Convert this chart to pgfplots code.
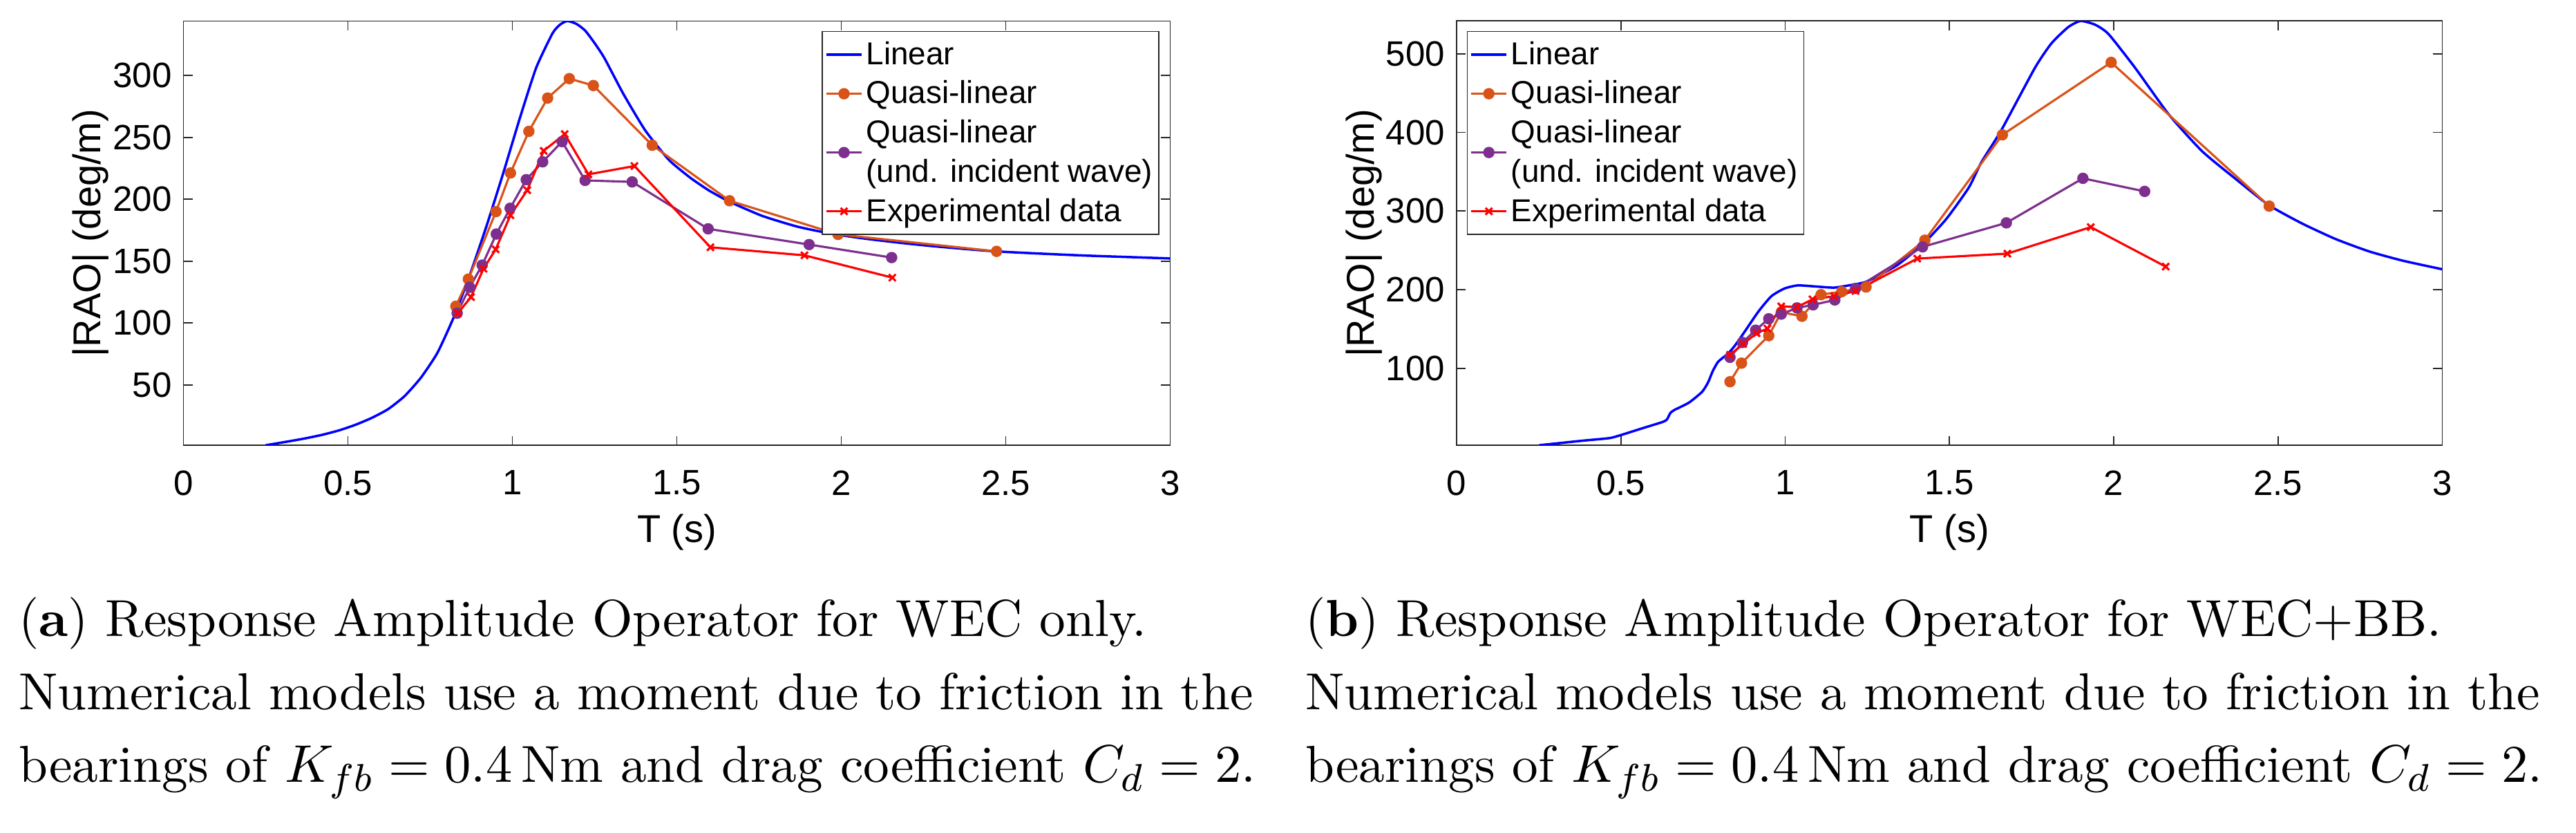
\documentclass[border=0pt]{standalone}
\usepackage{fontspec}
\usepackage{pgfplots}
\pgfplotsset{compat=1.18}
\newfontfamily\arial{Liberation Sans}
\definecolor{mlblue}{rgb}{0,0,1}
\definecolor{mlorange}{rgb}{0.85,0.325,0.098}
\definecolor{mlpurple}{rgb}{0.494,0.184,0.556}
\definecolor{mlred}{rgb}{1,0,0}
\definecolor{mlgray}{rgb}{0.15,0.15,0.15}
\newcommand\lstrut{\rule[-2.0pt]{0pt}{8.1pt}}
\pgfplotsset{
  raostyle/.style={
    scale only axis, height=87.66pt,
    xmin=0, xmax=3, xtick={0,0.5,1,1.5,2,2.5,3},
    /pgf/number format/assume math mode=true,
    axis line style={draw=mlgray, line width=0.25pt},
    tick style={draw=mlgray, line width=0.25pt},
    major tick length=1.9pt,
    tick align=inside, xtick pos=both, ytick pos=both,
    xticklabel pos=left, yticklabel pos=left,
    tick label style={font=\arial\fontsize{7.28}{8}\selectfont, text=black},
    xticklabel style={anchor=north, inner sep=0pt, yshift=-5.07pt},
    yticklabel style={anchor=east, inner sep=0pt, xshift=-2.23pt},
    label style={font=\arial\fontsize{8}{9}\selectfont},
    xlabel={T (s)}, ylabel={|RAO| (deg/m)},
    every axis x label/.append style={at={(axis description cs:0.5,-0.2293)}, anchor=base, inner sep=0pt},
    every axis y label/.append style={at={(axis description cs:-0.0838,0.5)}, anchor=base, inner sep=0pt},
    legend style={
      draw=mlgray, line width=0.25pt, fill=white,
      font=\arial\fontsize{6.55}{8.1}\selectfont,
      inner xsep=0.57pt, inner ysep=0.73pt,
      row sep=0pt,
      cells={anchor=west, align=left},
      nodes={inner xsep=0.7pt, inner ysep=0pt, text depth={}},
    },
    legend image code/.code={
      \draw[mark repeat=2, mark phase=2, #1] plot coordinates {(0pt,0pt) (3.65pt,0pt) (7.3pt,0pt)};
    },
  },
  linstyle/.style={mlblue, line width=0.5pt, smooth, tension=0.35},
  qlstyle/.style={mlorange, line width=0.45pt, mark=*, mark size=0.95pt, mark options={solid, fill=mlorange, draw=mlorange}},
  qustyle/.style={mlpurple, line width=0.45pt, mark=*, mark size=0.95pt, mark options={solid, fill=mlpurple, draw=mlpurple}},
  expstyle/.style={mlred, line width=0.45pt, mark=x, mark size=1.0pt, mark options={solid, line width=0.45pt}},
}
\begin{document}
\begin{tikzpicture}
\useasboundingbox (0,0) rectangle (532.571pt,172pt);
% ---------------- (a) ----------------
\begin{axis}[raostyle, at={(37.94pt,80pt)}, anchor=south west, width=204pt,
  ymin=1.4, ymax=343.9, ytick={50,100,150,200,250,300},
  legend style={at={(0.9891,0.9769)}, anchor=north east}]
\addplot[linstyle] table {
x y
0.250 1.4
0.322 4.6
0.372 7.0
0.422 9.8
0.472 13.3
0.522 17.8
0.572 23.4
0.622 30.5
0.672 41.0
0.722 56.0
0.772 76.0
0.822 105.0
0.872 140.0
0.922 179.0
0.972 221.0
1.022 265.0
1.072 306.0
1.122 334.0
1.145 341.0
1.167 343.9
1.195 341.5
1.221 336.2
1.250 326.0
1.280 313.8
1.338 284.7
1.404 255.5
1.471 233.1
1.500 226.0
1.545 216.5
1.598 207.0
1.660 198.0
1.759 186.6
1.866 177.9
1.973 172.0
2.080 167.9
2.190 164.5
2.295 161.7
2.470 157.9
2.724 154.7
3.000 152.2
};
\addlegendentry{\lstrut Linear}
\addplot[qlstyle] table {
x y
0.828 113.6
0.866 135.5
0.950 190.0
0.994 221.2
1.050 254.8
1.107 281.7
1.173 297.4
1.246 291.8
1.425 243.6
1.660 198.8
1.990 171.6
2.472 157.9
};
\addlegendentry{\lstrut Quasi-linear}
\addplot[qustyle] table {
x y
0.832 108.0
0.870 128.9
0.908 146.8
0.951 171.9
0.993 192.7
1.042 215.8
1.092 230.2
1.151 246.5
1.221 215.2
1.364 214.0
1.595 176.1
1.902 163.4
2.153 152.9
};
\addlegendentry{\lstrut Quasi-linear\\\lstrut (und. incident wave)}
\addplot[expstyle] table {
x y
0.834 108.0
0.874 121.0
0.912 143.9
0.949 159.5
0.994 187.1
1.045 207.3
1.095 239.1
1.159 252.6
1.231 220.1
1.371 226.8
1.602 161.2
1.888 154.7
2.155 136.7
};
\addlegendentry{\lstrut Experimental data}
\end{axis}
% ---------------- (b) ----------------
\begin{axis}[raostyle, at={(301.14pt,80pt)}, anchor=south west, width=203.8pt,
  ymin=2.4, ymax=541.6, ytick={100,200,300,400,500},
  legend style={at={(0.0102,0.9769)}, anchor=north west}]
\addplot[linstyle] table {
x y
0.252 2.4
0.385 8.2
0.465 11.4
0.500 15.3
0.566 24.0
0.626 31.8
0.640 35.0
0.650 43.0
0.662 47.0
0.707 56.5
0.747 70.2
0.765 82.0
0.780 97.0
0.795 108.0
0.810 113.5
0.827 119.2
0.845 128.0
0.867 140.8
0.918 172.0
0.958 191.8
0.998 201.6
1.038 205.5
1.088 204.3
1.149 202.7
1.209 206.7
1.249 210.6
1.340 231.0
1.420 258.4
1.490 289.8
1.559 330.0
1.597 362.0
1.658 403.0
1.760 482.0
1.810 513.0
1.861 533.7
1.899 541.6
1.943 536.9
1.984 525.0
2.065 482.0
2.167 423.0
2.269 376.0
2.371 340.8
2.472 307.5
2.574 284.0
2.676 264.3
2.778 248.6
2.880 236.9
3.000 226.0
};
\addlegendentry{\lstrut Linear}
\addplot[qlstyle] table {
x y
0.832 83.1
0.867 106.7
0.950 141.6
0.988 171.4
1.051 166.3
1.109 193.7
1.172 197.6
1.246 203.5
1.425 263.0
1.661 396.9
1.992 489.0
2.473 306.3
};
\addlegendentry{\lstrut Quasi-linear}
\addplot[qustyle] table {
x y
0.832 114.1
0.870 133.0
0.910 148.6
0.950 163.1
0.988 169.0
1.036 176.9
1.085 180.8
1.151 187.0
1.214 201.6
1.418 254.5
1.673 285.0
1.906 341.6
2.094 325.0
};
\addlegendentry{\lstrut Quasi-linear\\\lstrut (und. incident wave)}
\addplot[expstyle] table {
x y
0.832 117.3
0.872 131.0
0.913 144.7
0.946 150.6
0.988 178.8
1.036 178.0
1.083 187.8
1.149 191.8
1.214 198.4
1.402 239.6
1.676 245.9
1.930 279.6
2.158 229.4
};
\addlegendentry{\lstrut Experimental data}
\end{axis}
% ---------------- captions ----------------
\begin{scope}[every node/.style={anchor=base west, inner sep=0pt, font=\fontsize{10.75}{15}\selectfont}]
\node at (3.7pt,40.57pt) {(\textbf{a}) Response Amplitude Operator for WEC only.};
\node at (3.7pt,25.33pt) {Numerical models use a moment due to friction in the};
\node at (3.7pt,10.33pt) {bearings of $K_{fb} = 0.4$\,Nm and drag coefficient $C_d = 2$.};
\node at (269.7pt,40.57pt) {(\textbf{b}) Response Amplitude Operator for WEC+BB.};
\node at (269.7pt,25.33pt) {Numerical models use a moment due to friction in the};
\node at (269.7pt,10.33pt) {bearings of $K_{fb} = 0.4$\,Nm and drag coefficient $C_d = 2$.};
\end{scope}
\end{tikzpicture}
\end{document}
